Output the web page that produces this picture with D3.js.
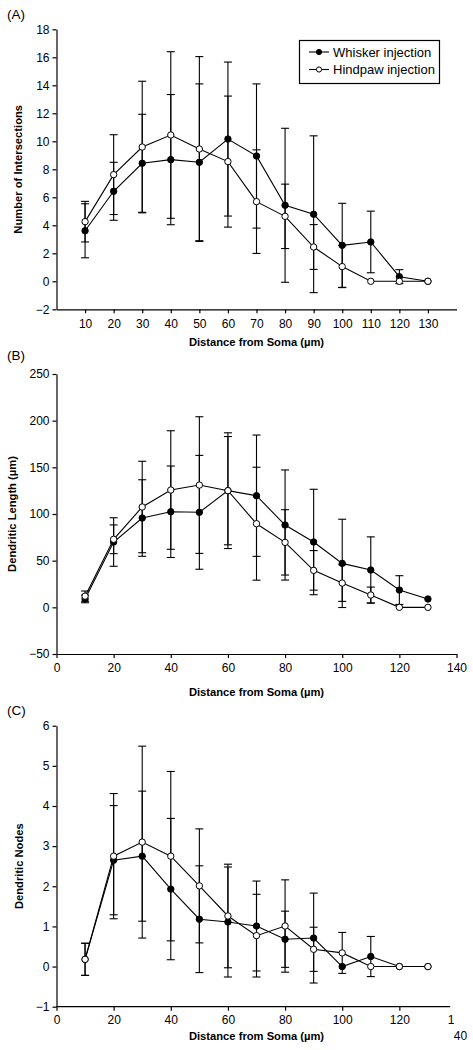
<!DOCTYPE html>
<html><head><meta charset="utf-8">
<script src="https://cdn.jsdelivr.net/npm/d3@7"></script>
<style>
html,body{margin:0;padding:0;background:#fff;}
svg{display:block;font-family:"Liberation Sans",Arial,sans-serif;}
</style></head>
<body>
<svg id="chart" width="473" height="1050"></svg>
<script>
// ---------- DATA ----------
const distances = [10,20,30,40,50,60,70,80,90,100,110,120,130];
const seriesNames = ["Whisker injection","Hindpaw injection"];

const intersectWhisker   = [3.61,6.43,8.43,8.69,8.5,10.16,8.95,5.43,4.79,2.57,2.81,0.33,0];
const intersectWhiskerSD = [1.93,2.07,3.5,4.65,5.6,5.5,5.15,5.5,5.6,3.0,2.2,0.5,0];
const intersectHindpaw   = [4.26,7.62,9.59,10.45,9.45,8.55,5.69,4.64,2.45,1.05,0,0,0];
const intersectHindpawSD = [1.45,2.85,4.7,5.95,6.6,4.68,3.7,2.3,1.6,1.5,0,0,0];

const lengthWhisker   = [9,70,95.7,102.4,101.8,125,119.6,88.2,70,47.1,40,18.5,8.9];
const lengthWhiskerSD = [4.1,26,41,49,61,58,65,59,56.5,47.3,35.5,15.4,0];
const lengthHindpaw   = [12,72.9,107.5,125.7,131,125,89.6,69.6,39.6,26,13.2,0,0];
const lengthHindpawSD = [5.5,15.4,49,63.5,73.2,62,60.5,35,21.2,19.6,8.5,0,0];

const nodesWhisker   = [0.18,2.65,2.75,1.93,1.18,1.11,1.01,0.68,0.71,0,0.25,0,0];
const nodesWhiskerSD = [0.4,1.36,1.62,1.76,1.33,1.37,1.12,0.7,1.12,0,0.5,0,0];
const nodesHindpaw   = [0.18,2.75,3.1,2.75,2.01,1.26,0.77,1.01,0.43,0.34,0,0,0];
const nodesHindpawSD = [0.4,1.56,2.39,2.11,1.42,1.29,1.03,1.15,0.55,0.51,0,0,0];

const xTicksA = [10,20,30,40,50,60,70,80,90,100,110,120,130];
const xTicksBC = [0,20,40,60,80,100,120,140];
const yTicksA = [-2,0,2,4,6,8,10,12,14,16,18];
const yTicksB = [-50,0,50,100,150,200,250];
const yTicksC = [-1,0,1,2,3,4,5,6];

const panelLabels = ["(A)","(B)","(C)"];
const yTitles = ["Number of Intersections","Dendritic Length (\u00b5m)","Dendritic Nodes"];
const xTitle = "Distance from Soma (\u00b5m)";

// ---------- LAYOUT ----------
const svg = d3.select("#chart");
const x = d3.scaleLinear().domain([0,140]).range([56.5,456.5]);

const panels = [
  {label:panelLabels[0], labelY:14, yDomain:[-2,18], yRange:[309.3,29.3], yTicks:yTicksA, xTicks:xTicksA,
   title:yTitles[0], titleX:18, xTitleY:342, pad:6.5,
   w:intersectWhisker, wsd:intersectWhiskerSD, h:intersectHindpaw, hsd:intersectHindpawSD},
  {label:panelLabels[1], labelY:355, yDomain:[-50,250], yRange:[654,374], yTicks:yTicksB, xTicks:xTicksBC,
   title:yTitles[1], titleX:12, xTitleY:692, pad:5,
   w:lengthWhisker, wsd:lengthWhiskerSD, h:lengthHindpaw, hsd:lengthHindpawSD},
  {label:panelLabels[2], labelY:710.7, yDomain:[-1,6], yRange:[1006.7,725.7], yTicks:yTicksC, xTicks:xTicksBC,
   title:yTitles[2], titleX:19.5, xTitleY:1036, pad:5, split:true,
   w:nodesWhisker, wsd:nodesWhiskerSD, h:nodesHindpaw, hsd:nodesHindpawSD}
];

panels.forEach(p => {
  const y = d3.scaleLinear().domain(p.yDomain).range(p.yRange);
  const g = svg.append("g");
  const y0 = p.yRange[0];

  // y axis
  const ya = g.append("g").attr("transform",`translate(${x(0)},0)`)
    .call(d3.axisLeft(y).tickValues(p.yTicks).tickSize(4).tickSizeOuter(0).tickPadding(3)
      .tickFormat(d => d < 0 ? "\u2212" + Math.abs(d) : d));
  ya.select(".domain").attr("stroke","#000").attr("stroke-width",1.2);
  ya.selectAll(".tick line").attr("stroke","#000").attr("stroke-width",1.2);
  ya.selectAll("text").attr("font-size",12).attr("fill","#000").attr("font-family","Liberation Sans, Arial, sans-serif");

  // x axis
  const xa = g.append("g").attr("transform",`translate(0,${y0})`)
    .call(d3.axisBottom(x).tickValues(p.xTicks).tickSize(4).tickSizeOuter(0).tickPadding(p.pad)
      .tickFormat(d => (p.split && d === 140) ? "1" : d));
  xa.select(".domain").attr("stroke","#000").attr("stroke-width",1.2);
  xa.selectAll(".tick line").attr("stroke","#000").attr("stroke-width",1.2);
  xa.selectAll("text").attr("font-size",12).attr("fill","#000").attr("font-family","Liberation Sans, Arial, sans-serif");
  if (p.split) {
    xa.select(".domain").attr("d", `M${x(0)},0H${x(137.8)}`);
    xa.selectAll(".tick").filter(d => d === 140).each(function(){
      const t = d3.select(this);
      t.select("line").remove();
      t.select("text").attr("x",-6);
      t.append("text").attr("x",3.5).attr("y",p.pad + 4 + 15.5).attr("dy","0.71em")
        .attr("text-anchor","middle").attr("font-size",12).attr("fill","#000").text("40");
    });
  }

  // titles
  g.append("text").attr("x",256.5).attr("y",p.xTitleY).attr("dy","0.35em")
    .attr("text-anchor","middle").attr("font-size",11.2).attr("font-weight","bold").text(xTitle);
  const yc = (p.yRange[0]+p.yRange[1])/2;
  g.append("text").attr("transform",`translate(${p.titleX},${yc}) rotate(-90)`).attr("dy","0.35em")
    .attr("text-anchor","middle").attr("font-size",11.2).attr("font-weight","bold").text(p.title);
  g.append("text").attr("x",7).attr("y",p.labelY).attr("dy","0.35em")
    .attr("font-size",13.5).text(p.label);

  const series = [
    {vals:p.w, sd:p.wsd, fill:"#000"},
    {vals:p.h, sd:p.hsd, fill:"#fff"}
  ];

  // error bars
  series.forEach(s => {
    const eb = g.append("g").attr("stroke","#000").attr("stroke-width",1.1);
    distances.forEach((d,i) => {
      const sd = s.sd[i];
      if (!sd) return;
      const yt = y(s.vals[i]+sd), yb = y(s.vals[i]-sd);
      eb.append("line").attr("x1",x(d)).attr("x2",x(d)).attr("y1",yt).attr("y2",yb);
      eb.append("line").attr("x1",x(d)-4).attr("x2",x(d)+4).attr("y1",yt).attr("y2",yt);
      eb.append("line").attr("x1",x(d)-4).attr("x2",x(d)+4).attr("y1",yb).attr("y2",yb);
    });
  });

  // lines
  const line = d3.line().x((v,i)=>x(distances[i])).y(v=>y(v));
  series.forEach(s => {
    g.append("path").attr("d",line(s.vals)).attr("fill","none").attr("stroke","#000").attr("stroke-width",1.1);
  });

  // markers
  series.forEach(s => {
    g.selectAll(null).data(s.vals).enter().append("circle")
      .attr("cx",(v,i)=>x(distances[i])).attr("cy",v=>y(v)).attr("r",3.2)
      .attr("fill",s.fill).attr("stroke","#000").attr("stroke-width",1);
  });
});

// ---------- LEGEND (panel A) ----------
const lg = svg.append("g");
lg.append("rect").attr("x",299.5).attr("y",40.5).attr("width",140).attr("height",43)
  .attr("fill","#fff").attr("stroke","#000").attr("stroke-width",1.2);
const legendFills = ["#000","#fff"];
seriesNames.forEach((name,i) => {
  const cy = 52 + i*17.5;
  lg.append("line").attr("x1",309).attr("x2",329).attr("y1",cy).attr("y2",cy).attr("stroke","#000").attr("stroke-width",1.1);
  lg.append("circle").attr("cx",319).attr("cy",cy).attr("r",2.6).attr("fill",legendFills[i]).attr("stroke","#000").attr("stroke-width",1);
  lg.append("text").attr("x",333).attr("y",cy).attr("dy","0.35em").attr("font-size",13).attr("fill","#000").text(name);
});
</script>
</body></html>
